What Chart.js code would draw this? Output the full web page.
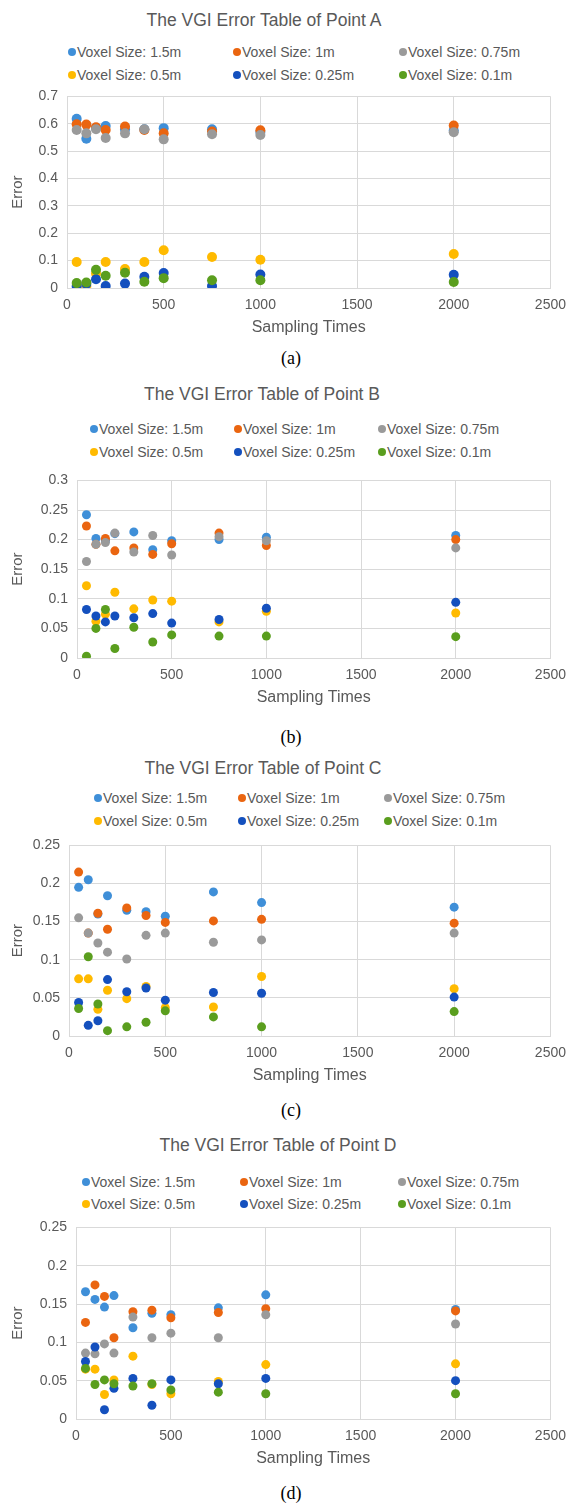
<!DOCTYPE html>
<html>
<head>
<meta charset="utf-8">
<script src="https://cdn.jsdelivr.net/npm/chart.js@4"></script>
<style>
  body { margin: 0; background: #fff; width: 575px; height: 1504px; position: relative; overflow: hidden;
         font-family: "Liberation Sans", Arial, sans-serif; }
  .title { position: absolute; transform: translate(-50%, -50%); font-size: 17.5px; color: #595959; white-space: nowrap; }
  .leg { position: absolute; transform: translateY(-50%); font-size: 14px; color: #595959; white-space: nowrap;
         display: flex; align-items: center; }
  .leg i { display: inline-block; width: 8px; height: 8px; border-radius: 50%; margin-right: 1px; }
  .cap { position: absolute; transform: translate(-50%, -50%); font-family: "Liberation Serif", "Times New Roman", serif;
         font-size: 18px; color: #000; }
  canvas { position: absolute; left: 0; }
</style>
</head>
<body>
<script>
// x values shared by every series
const samplingTimes = [50, 100, 150, 200, 300, 400, 500, 750, 1000, 2000];
const voxelSizes = ["Voxel Size: 1.5m", "Voxel Size: 1m", "Voxel Size: 0.75m",
                    "Voxel Size: 0.5m", "Voxel Size: 0.25m", "Voxel Size: 0.1m"];
const seriesColors = ["#3F8FD8", "#EA6510", "#9A9A9A", "#FFBA00", "#1450BE", "#5A9E1E"];

// one row per voxel size
const pointA = [
  [0.618, 0.545, 0.585, 0.592, 0.580, 0.580, 0.584, 0.580, 0.570, 0.575],
  [0.598, 0.597, 0.587, 0.577, 0.590, 0.577, 0.565, 0.572, 0.576, 0.594],
  [0.577, 0.565, 0.580, 0.548, 0.565, 0.580, 0.543, 0.562, 0.559, 0.569],
  [0.095, 0.006, 0.053, 0.095, 0.069, 0.095, 0.138, 0.113, 0.103, 0.124],
  [0.006, 0.015, 0.032, 0.007, 0.016, 0.041, 0.055, 0.007, 0.049, 0.048],
  [0.018, 0.020, 0.067, 0.045, 0.056, 0.023, 0.036, 0.028, 0.028, 0.022]
];
const pointB = [
  [0.242, 0.202, 0.198, 0.210, 0.213, 0.183, 0.198, 0.200, 0.204, 0.207],
  [0.223, 0.192, 0.202, 0.181, 0.186, 0.175, 0.193, 0.211, 0.190, 0.200],
  [0.163, 0.192, 0.195, 0.211, 0.179, 0.207, 0.174, 0.205, 0.198, 0.186],
  [0.122, 0.062, 0.074, 0.111, 0.083, 0.098, 0.096, 0.061, 0.079, 0.076],
  [0.082, 0.071, 0.061, 0.071, 0.068, 0.075, 0.059, 0.065, 0.084, 0.094],
  [0.003, 0.050, 0.082, 0.016, 0.052, 0.027, 0.039, 0.037, 0.037, 0.036]
];
const pointC = [
  [0.195, 0.205, 0.160, 0.184, 0.165, 0.163, 0.157, 0.189, 0.175, 0.169],
  [0.215, 0.135, 0.161, 0.140, 0.168, 0.158, 0.149, 0.151, 0.153, 0.148],
  [0.155, 0.135, 0.122, 0.110, 0.101, 0.132, 0.135, 0.123, 0.126, 0.135],
  [0.075, 0.075, 0.035, 0.060, 0.049, 0.065, 0.037, 0.038, 0.078, 0.062],
  [0.044, 0.014, 0.020, 0.074, 0.058, 0.063, 0.047, 0.057, 0.056, 0.051],
  [0.036, 0.104, 0.042, 0.007, 0.012, 0.018, 0.033, 0.025, 0.012, 0.032]
];
const pointD = [
  [0.166, 0.156, 0.146, 0.161, 0.119, 0.138, 0.136, 0.145, 0.162, 0.143],
  [0.126, 0.175, 0.160, 0.106, 0.140, 0.142, 0.132, 0.139, 0.144, 0.141],
  [0.086, 0.085, 0.098, 0.086, 0.133, 0.106, 0.112, 0.106, 0.136, 0.124],
  [0.065, 0.065, 0.032, 0.051, 0.082, 0.045, 0.033, 0.049, 0.071, 0.072],
  [0.075, 0.094, 0.012, 0.040, 0.053, 0.018, 0.051, 0.046, 0.053, 0.050],
  [0.066, 0.045, 0.051, 0.046, 0.043, 0.046, 0.038, 0.035, 0.033, 0.033]
];

const charts = [
  { title: "The VGI Error Table of Point A", tx: 264, ty: 20, legX: [72, 237, 403], legY: [52, 75],
    left: 67, right: 557, top: 89, bottom: 288, yMax: 0.7, yStep: 0.1, r: 5, cap: "(a)", capY: 358, values: pointA },
  { title: "The VGI Error Table of Point B", tx: 262, ty: 394, legX: [94, 238, 382], legY: [429, 452],
    left: 77, right: 557, top: 473, bottom: 658, yMax: 0.3, yStep: 0.05, r: 4.5, cap: "(b)", capY: 737, values: pointB },
  { title: "The VGI Error Table of Point C", tx: 263, ty: 768, legX: [98, 242, 388], legY: [798, 821],
    left: 69, right: 555, top: 838, bottom: 1036, yMax: 0.25, yStep: 0.05, r: 4.5, cap: "(c)", capY: 1110, values: pointC },
  { title: "The VGI Error Table of Point D", tx: 278, ty: 1145, legX: [86, 244, 402], legY: [1182, 1204],
    left: 76, right: 561, top: 1220, bottom: 1419, yMax: 0.25, yStep: 0.05, r: 4.5, cap: "(d)", capY: 1493, values: pointD }
];

const gridColor = "#D9D9D9";
const textColor = "#595959";

function addText(cls, text, x, y) {
  const el = document.createElement("div");
  el.className = cls;
  el.textContent = text;
  el.style.left = x + "px";
  el.style.top = y + "px";
  document.body.appendChild(el);
  return el;
}

function makeChart(c) {
  addText("title", c.title, c.tx, c.ty);
  addText("cap", c.cap, 291, c.capY);

  // legend, three columns by two rows like the Excel one
  voxelSizes.forEach((label, i) => {
    const el = addText("leg", "", c.legX[i % 3] - 4, c.legY[Math.floor(i / 3)]);
    const dot = document.createElement("i");
    dot.style.background = seriesColors[i];
    el.appendChild(dot);
    el.appendChild(document.createTextNode(label));
  });

  const pad = 10, xAxisH = 52;
  const canvas = document.createElement("canvas");
  const h = pad + (c.bottom - c.top) + xAxisH;
  canvas.width = 575;
  canvas.height = h;
  canvas.style.top = (c.top - pad) + "px";
  canvas.style.width = "575px";
  canvas.style.height = h + "px";
  document.body.appendChild(canvas);

  const datasets = c.values.map((row, i) => ({
    label: voxelSizes[i],
    data: row.map((v, j) => ({ x: samplingTimes[j], y: v })),
    backgroundColor: seriesColors[i],
    borderWidth: 0,
    pointRadius: c.r,
    order: 5 - i
  }));

  return new Chart(canvas.getContext("2d"), {
    type: "scatter",
    data: { datasets: datasets },
    options: {
      responsive: false,
      animation: false,
      layout: { padding: { top: pad, right: 575 - c.right, left: 0, bottom: 0 } },
      plugins: { legend: { display: false }, tooltip: { enabled: false } },
      scales: {
        x: {
          min: 0, max: 2500,
          ticks: { stepSize: 500, color: textColor, font: { size: 14 }, padding: 9, maxRotation: 0,
                   callback: (v) => String(v) },
          grid: { color: gridColor, drawTicks: false },
          border: { color: gridColor },
          title: { display: true, text: "Sampling Times", color: textColor, font: { size: 16 }, padding: { top: 0, bottom: 3 } },
          afterFit: (s) => { s.height = xAxisH; }
        },
        y: {
          min: 0, max: c.yMax,
          ticks: { stepSize: c.yStep, color: textColor, font: { size: 14 }, padding: 9,
                   callback: (v) => String(+v.toFixed(2)) },
          grid: { color: gridColor, drawTicks: false },
          border: { color: gridColor },
          title: { display: true, text: "Error", color: textColor, font: { size: 15 }, padding: { top: 9, bottom: 0 } },
          afterFit: (s) => { s.width = c.left; }
        }
      }
    }
  });
}

charts.forEach(makeChart);
</script>
</body>
</html>
